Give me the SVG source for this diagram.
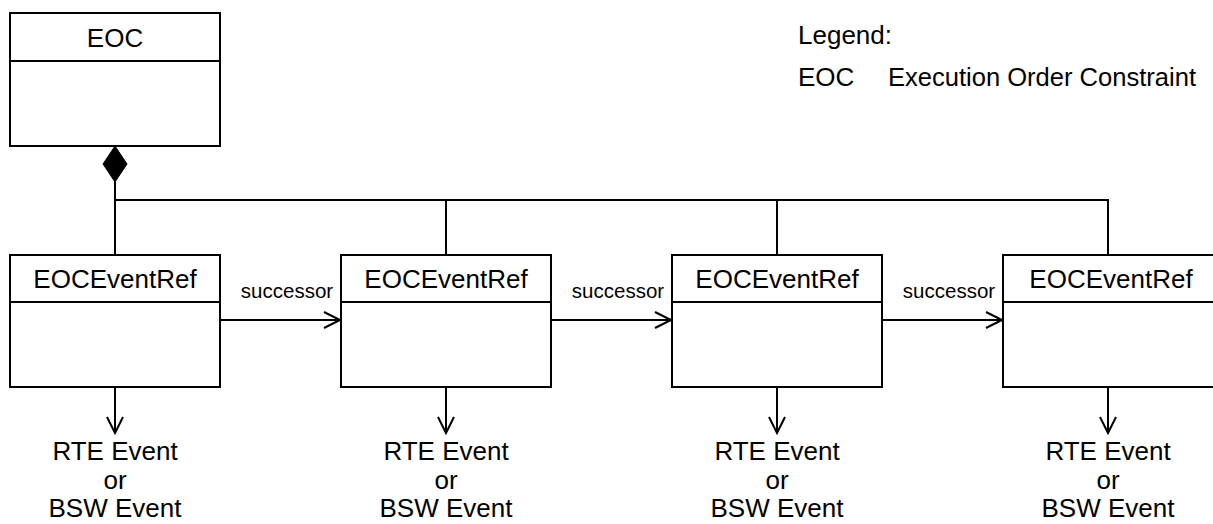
<svg xmlns="http://www.w3.org/2000/svg" width="1213" height="524" viewBox="0 0 1213 524">
<defs>
<style>
.box{fill:#fff;stroke:#000;stroke-width:2}
.ln{fill:none;stroke:#000;stroke-width:2}
.t{font-family:"Liberation Sans",Arial,sans-serif;font-size:26px;fill:#000}
.m{text-anchor:middle}
.s{font-family:"Liberation Sans",Arial,sans-serif;font-size:20.5px;fill:#000;text-anchor:middle}
</style>
<marker id="open" markerWidth="20" markerHeight="20" refX="17" refY="9" orient="auto" markerUnits="userSpaceOnUse">
<path d="M1,1 L17,9 L1,17" fill="none" stroke="#000" stroke-width="2"/>
</marker>
</defs>
<rect width="1213" height="524" fill="#fff"/>
<g id="connectors">
<path class="ln" d="M115,182 V255"/>
<path class="ln" d="M115,200 H1108 V255"/>
<path class="ln" d="M446,200 V255"/>
<path class="ln" d="M777,200 V255"/>
<polygon points="115,146 127,164 115,182 103,164" fill="#000" stroke="#000" stroke-width="1"/>
<path class="ln" d="M220,320 H340" marker-end="url(#open)"/>
<path class="ln" d="M551,320 H671" marker-end="url(#open)"/>
<path class="ln" d="M882,320 H1002" marker-end="url(#open)"/>
<text class="s" x="287" y="298">successor</text>
<text class="s" x="618" y="298">successor</text>
<text class="s" x="949" y="298">successor</text>
<path class="ln" d="M115,387 V433" marker-end="url(#open)"/>
<path class="ln" d="M446,387 V433" marker-end="url(#open)"/>
<path class="ln" d="M777,387 V433" marker-end="url(#open)"/>
<path class="ln" d="M1108,387 V433" marker-end="url(#open)"/>
</g>
<g id="eoc">
<rect class="box" x="10" y="13" width="210" height="133"/>
<line class="ln" x1="10" y1="61" x2="220" y2="61"/>
<text class="t m" x="115" y="47">EOC</text>
</g>
<g id="ref1">
<rect class="box" x="10" y="255" width="210" height="132"/>
<line class="ln" x1="10" y1="302" x2="220" y2="302"/>
<text class="t m" x="115" y="288">EOCEventRef</text>
</g>
<g id="ref2">
<rect class="box" x="341" y="255" width="210" height="132"/>
<line class="ln" x1="341" y1="302" x2="551" y2="302"/>
<text class="t m" x="446" y="288">EOCEventRef</text>
</g>
<g id="ref3">
<rect class="box" x="672" y="255" width="210" height="132"/>
<line class="ln" x1="672" y1="302" x2="882" y2="302"/>
<text class="t m" x="777" y="288">EOCEventRef</text>
</g>
<g id="ref4">
<rect class="box" x="1003" y="255" width="215" height="132"/>
<line class="ln" x1="1003" y1="302" x2="1218" y2="302"/>
<text class="t m" x="1111" y="288">EOCEventRef</text>
</g>
<g id="event1">
<text class="t m" x="115" y="460">RTE Event</text>
<text class="t m" x="115" y="489">or</text>
<text class="t m" x="115" y="517">BSW Event</text>
</g>
<g id="event2">
<text class="t m" x="446" y="460">RTE Event</text>
<text class="t m" x="446" y="489">or</text>
<text class="t m" x="446" y="517">BSW Event</text>
</g>
<g id="event3">
<text class="t m" x="777" y="460">RTE Event</text>
<text class="t m" x="777" y="489">or</text>
<text class="t m" x="777" y="517">BSW Event</text>
</g>
<g id="event4">
<text class="t m" x="1108" y="460">RTE Event</text>
<text class="t m" x="1108" y="489">or</text>
<text class="t m" x="1108" y="517">BSW Event</text>
</g>
<g id="legend">
<text class="t" x="798" y="44">Legend:</text>
<text class="t" x="798" y="86">EOC</text>
<text class="t" x="888" y="86" textLength="308" lengthAdjust="spacingAndGlyphs">Execution Order Constraint</text>
</g>
</svg>
